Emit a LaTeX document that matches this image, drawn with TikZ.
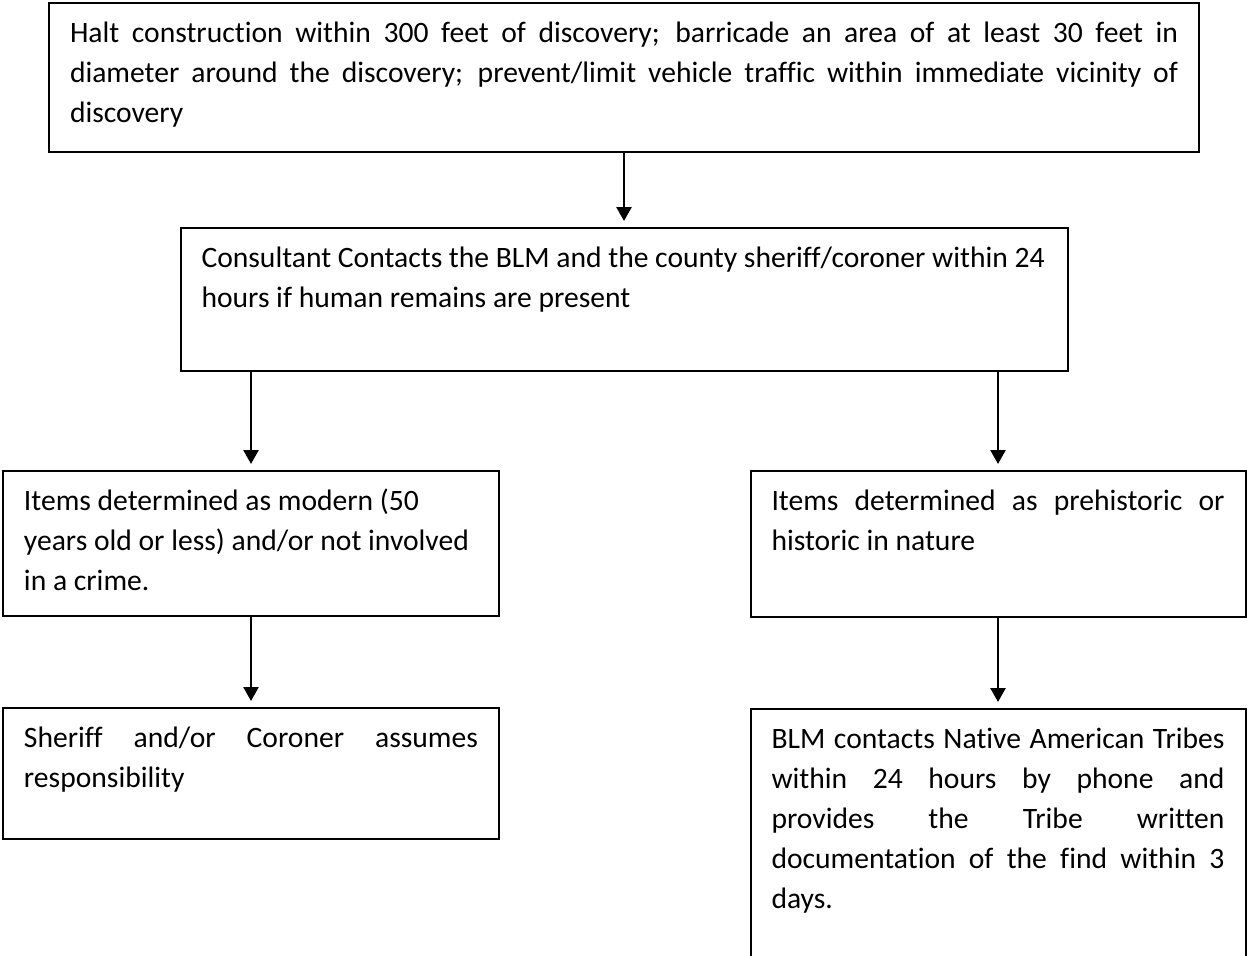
\documentclass[tikz,border=0pt]{standalone}
\usepackage{fontspec}
\setmainfont{Carlito}[Ligatures=NoCommon]
\usepackage{tikz}
\usetikzlibrary{positioning}
\usetikzlibrary{arrows.meta}
\tikzset{edge/.style = {-{Triangle[length=7pt,width=7.5pt]}, line width=1.3pt, shorten >=3pt}}

\begin{document}
\begin{tikzpicture}[x=0.5pt,y=-0.5pt,box node/.style={draw,line width=1pt,inner xsep=10.5pt,inner ysep=0pt,text height=19.5pt,align=justify,font={\fontsize{14.8}{20}\selectfont\hyphenpenalty=10000\exhyphenpenalty=10000}}]
                \useasboundingbox (0,0) rectangle (1247,955);
                \node[box node, anchor=north, text width=554pt, text depth=55pt] (1) at (624,2) {Halt construction within 300 feet of discovery; barricade an area of at least 30 feet in\linebreak diameter around the discovery; prevent/limit vehicle traffic within immediate vicinity of\linebreak discovery};
                \node[box node, align=flush left, text width=422.5pt, text depth=52pt] (2) [below=37pt of 1] {Consultant Contacts the BLM and the county sheriff/coroner within 24\\hours if human remains are present};
                \node[box node, align=flush left, text width=227pt, text depth=53pt] (3) [below=49pt of 2, xshift=-186.5pt] {Items determined as modern (50\\years old or less) and/or not involved\\in a crime.};
                \node[box node, text width=226.5pt, text depth=53.5pt] (4) [below=49pt of 2, xshift=187pt] {Items determined as prehistoric or\linebreak historic in nature};
                \node[box node, text width=227pt, text depth=46pt] (5) [below=45pt of 3] {Sheriff and/or Coroner assumes\linebreak responsibility};
                \node[box node, text width=226.5pt, text depth=115.5pt] (6) [below=45pt of 4] {BLM contacts Native American Tribes\linebreak within 24 hours by phone and\linebreak provides the Tribe written\linebreak documentation of the find within 3\linebreak days.};

                \path[edge] (1) edge (2);
                \draw[edge] (3.north |- 2.south) -- (3);
                \draw[edge] (4.north |- 2.south) -- (4);
                \path[edge] (3) edge (5);
                \path[edge] (4) edge (6);
            \end{tikzpicture}
\end{document}
